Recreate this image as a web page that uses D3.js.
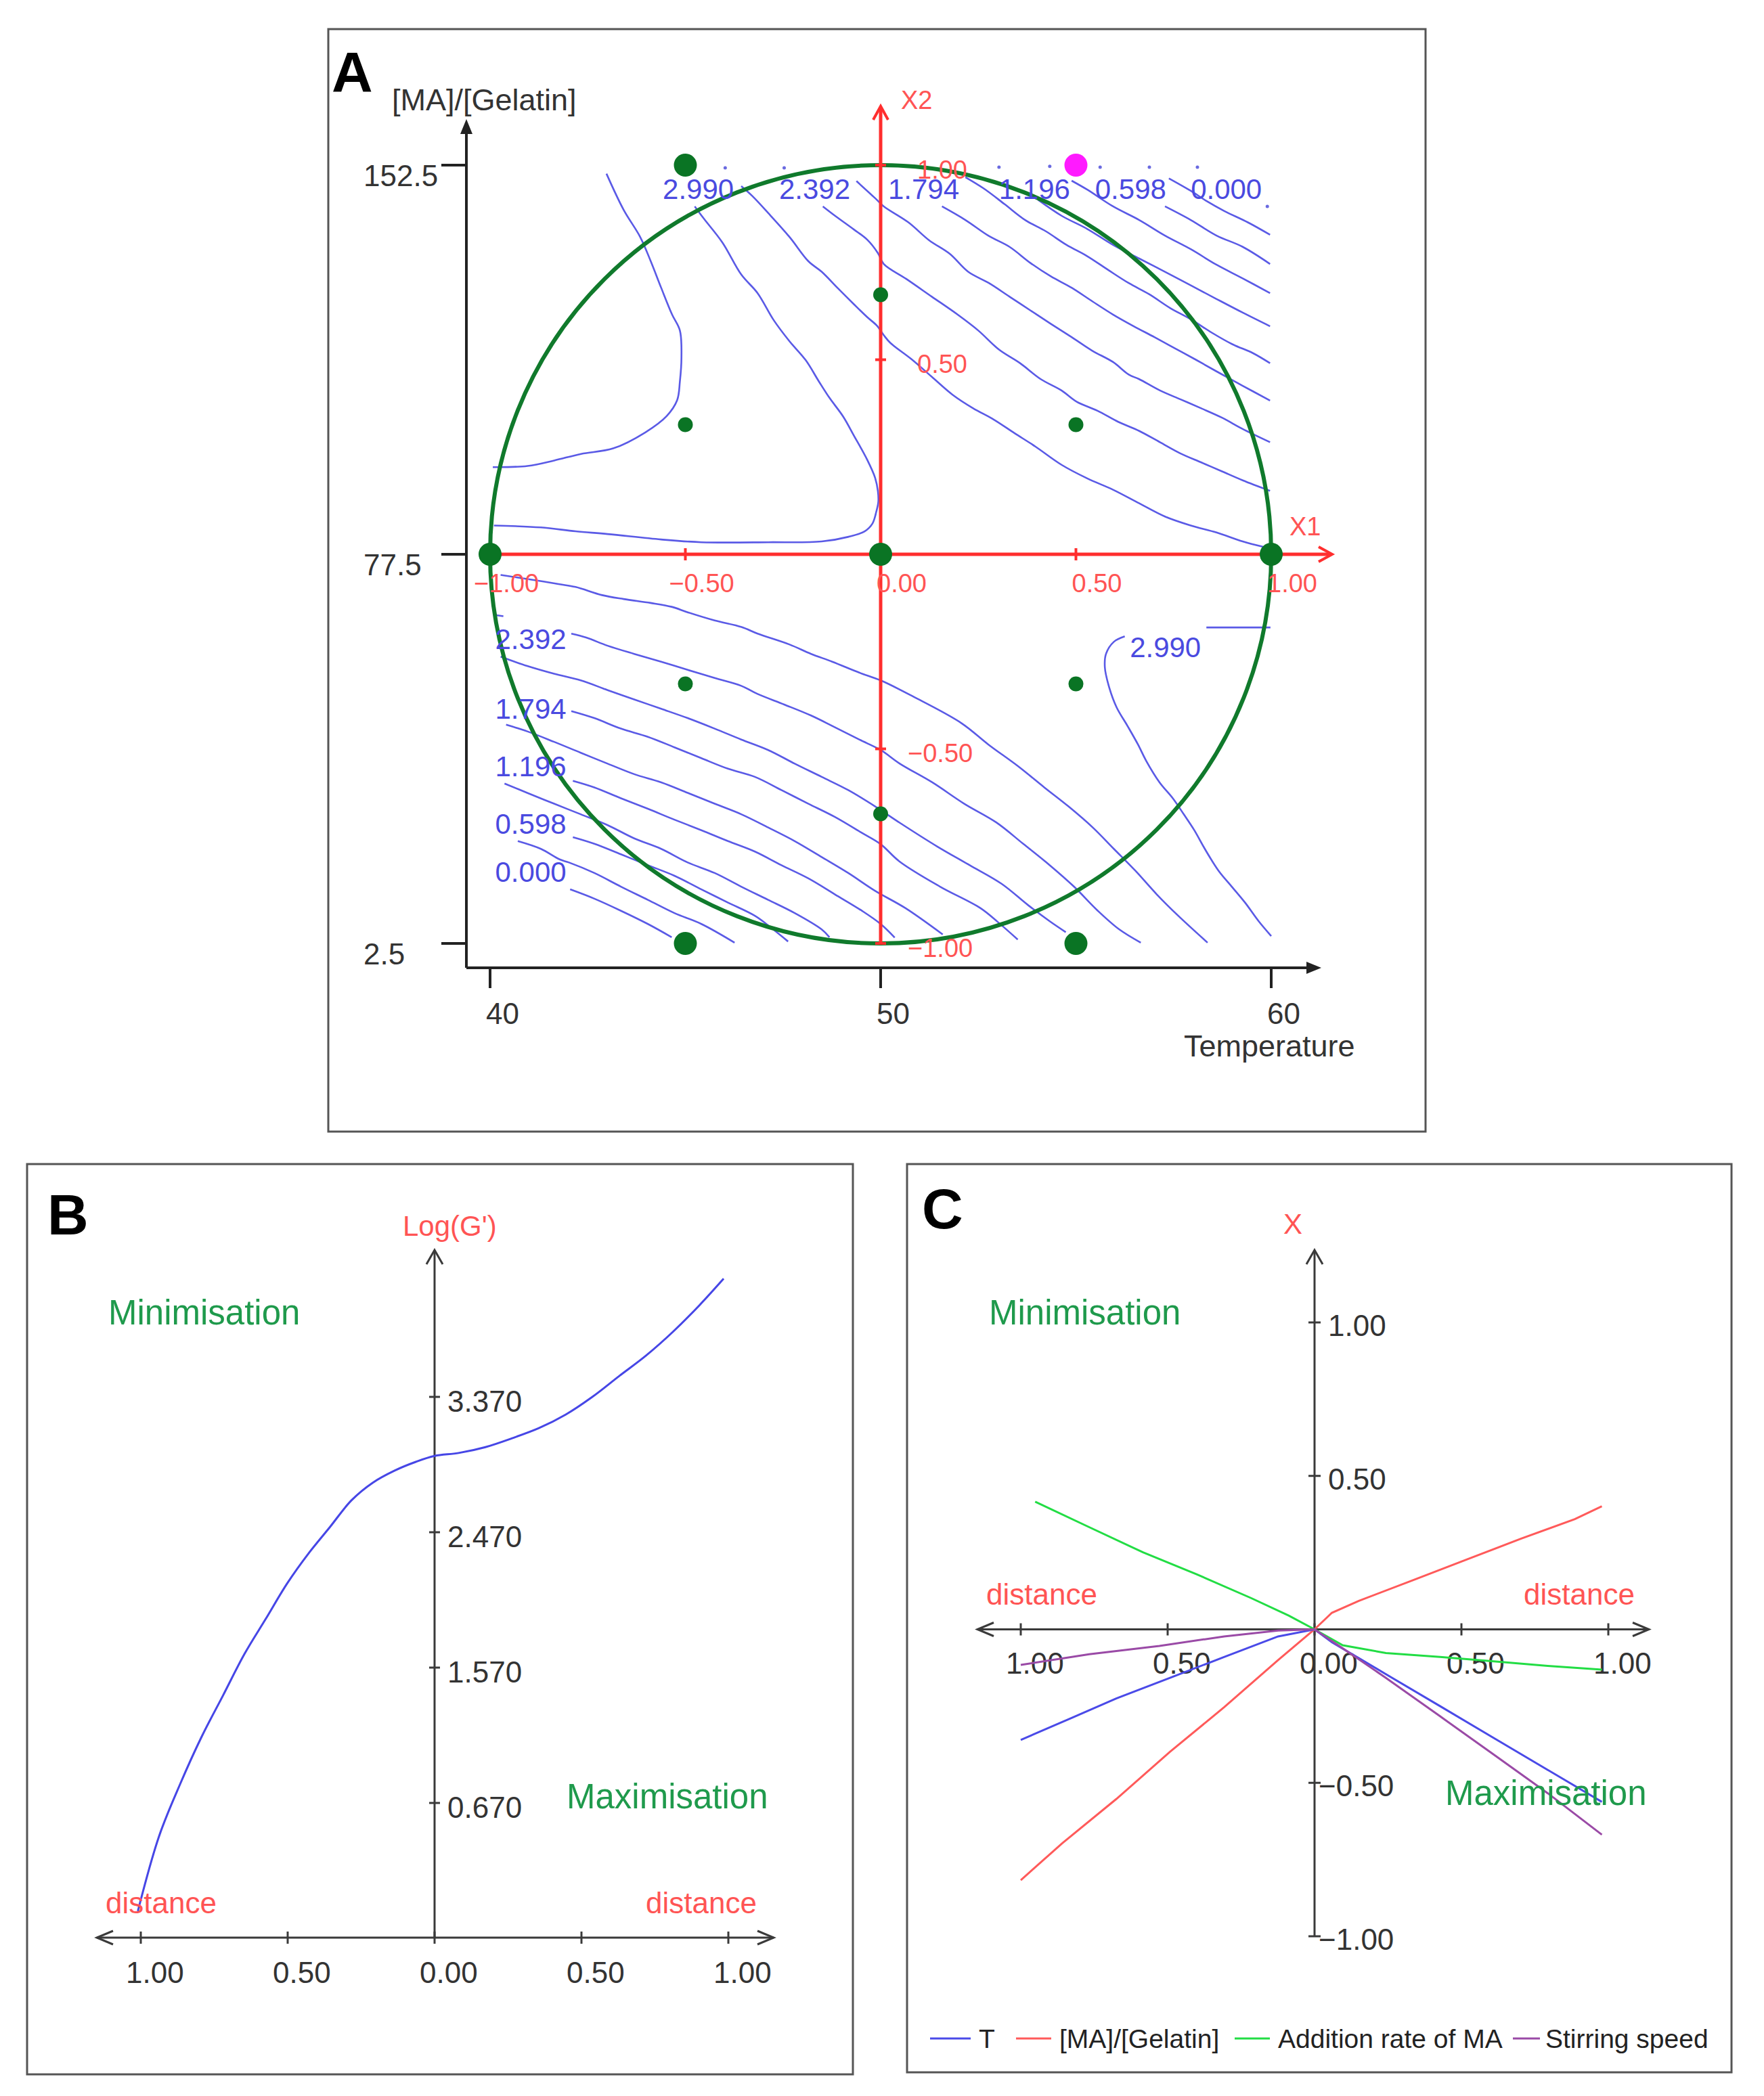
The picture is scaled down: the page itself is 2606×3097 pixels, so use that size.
<!DOCTYPE html>
<html>
<head>
<meta charset="utf-8">
<script src="https://cdn.jsdelivr.net/npm/d3@7"></script>
<style>
  body { margin: 0; background: #fff; }
  svg { display: block; font-family: 'Liberation Sans', Arial, sans-serif; }
</style>
</head>
<body>
<div id="chart"></div>
<script>
// ---------- panel A : response surface (coded units x1 = Temperature, x2 = [MA]/[Gelatin]) ----------
const tempTicks = [40, 50, 60];
const maTicks = [2.5, 77.5, 152.5];
const x1Ticks = [-1, -0.5, 0, 0.5, 1];
const x2Ticks = [-1, -0.5, 0.5, 1];

const designBig = [[-1, 0], [0, 0], [1, 0], [-0.5, 1], [-0.5, -1], [0.5, -1]];
const designSmall = [[0, 0.667], [0, -0.667], [-0.5, 0.333], [0.5, 0.333], [-0.5, -0.333], [0.5, -0.333]];
const designOptimum = [[0.5, 1]];

// iso-response lines, [x1, x2]
const contoursNW = [
  [[-0.702,0.978],[-0.658,0.885],[-0.616,0.816],[-0.589,0.754],[-0.562,0.685],[-0.534,0.616],[-0.514,0.575],[-0.510,0.506],[-0.514,0.444],[-0.521,0.396],[-0.548,0.355],[-0.603,0.313],[-0.685,0.272],[-0.767,0.258],[-0.836,0.241],[-0.904,0.227],[-0.993,0.224]],
  [[-0.476,0.894],[-0.453,0.863],[-0.405,0.801],[-0.357,0.719],[-0.315,0.671],[-0.274,0.602],[-0.233,0.547],[-0.192,0.499],[-0.158,0.444],[-0.131,0.402],[-0.096,0.354],[-0.069,0.306],[-0.035,0.244],[-0.014,0.196],[-0.007,0.162],[-0.006,0.134],[-0.011,0.110],[-0.021,0.079],[-0.041,0.059],[-0.082,0.045],[-0.151,0.033],[-0.288,0.031],[-0.459,0.031],[-0.562,0.038],[-0.699,0.052],[-0.781,0.059],[-0.870,0.069],[-0.990,0.074]]
];
const contoursNE = [
  [[-0.357,0.946],[-0.329,0.921],[-0.288,0.877],[-0.233,0.815],[-0.185,0.753],[-0.151,0.726],[-0.110,0.684],[-0.069,0.643],[-0.034,0.609],[-0.010,0.588],[0.008,0.563],[0.025,0.543],[0.078,0.502],[0.131,0.456],[0.184,0.410],[0.237,0.375],[0.290,0.346],[0.343,0.311],[0.396,0.277],[0.463,0.230],[0.529,0.195],[0.595,0.166],[0.662,0.131],[0.728,0.097],[0.794,0.074],[0.860,0.056],[0.927,0.033],[0.980,0.019]],
  [[-0.148,0.894],[-0.117,0.870],[-0.069,0.835],[-0.034,0.808],[-0.007,0.774],[0.008,0.746],[0.065,0.708],[0.131,0.662],[0.197,0.616],[0.250,0.575],[0.303,0.526],[0.357,0.491],[0.410,0.450],[0.463,0.421],[0.502,0.392],[0.555,0.369],[0.609,0.340],[0.662,0.317],[0.715,0.288],[0.768,0.259],[0.821,0.236],[0.874,0.213],[0.927,0.190],[0.997,0.163]],
  [[-0.062,0.959],[-0.014,0.915],[0.008,0.894],[0.071,0.853],[0.124,0.807],[0.177,0.772],[0.224,0.726],[0.277,0.697],[0.330,0.662],[0.383,0.627],[0.436,0.592],[0.489,0.558],[0.542,0.523],[0.595,0.494],[0.635,0.462],[0.662,0.450],[0.715,0.421],[0.768,0.398],[0.821,0.375],[0.874,0.351],[0.927,0.322],[0.997,0.288]],
  [[0.157,0.894],[0.217,0.859],[0.277,0.818],[0.330,0.790],[0.383,0.749],[0.436,0.714],[0.489,0.685],[0.542,0.650],[0.595,0.616],[0.648,0.586],[0.701,0.558],[0.754,0.529],[0.807,0.500],[0.860,0.470],[0.927,0.433],[0.997,0.395]],
  [[0.217,0.969],[0.264,0.940],[0.317,0.900],[0.370,0.859],[0.423,0.830],[0.476,0.795],[0.529,0.766],[0.582,0.731],[0.635,0.697],[0.688,0.668],[0.741,0.633],[0.794,0.604],[0.847,0.570],[0.900,0.540],[0.953,0.517],[0.997,0.491]],
  [[0.403,0.911],[0.463,0.870],[0.529,0.836],[0.595,0.795],[0.662,0.760],[0.728,0.726],[0.794,0.691],[0.860,0.656],[0.927,0.621],[0.997,0.586]],
  [[0.489,0.960],[0.529,0.937],[0.595,0.894],[0.662,0.859],[0.728,0.819],[0.794,0.784],[0.860,0.744],[0.927,0.709],[0.997,0.671]],
  [[0.728,0.894],[0.794,0.859],[0.860,0.819],[0.927,0.790],[0.997,0.746]],
  [[0.738,0.966],[0.794,0.934],[0.834,0.908],[0.880,0.882],[0.940,0.853],[0.997,0.821]]
];
const contoursSW = [
  [[-0.973,-0.053],[-0.863,-0.070],[-0.822,-0.077],[-0.781,-0.084],[-0.713,-0.105],[-0.658,-0.115],[-0.589,-0.125],[-0.535,-0.135],[-0.494,-0.149],[-0.425,-0.170],[-0.356,-0.187],[-0.315,-0.204],[-0.233,-0.232],[-0.178,-0.256],[-0.124,-0.276],[-0.055,-0.304],[0.000,-0.324],[0.084,-0.366],[0.207,-0.434],[0.276,-0.489],[0.351,-0.544],[0.419,-0.599],[0.481,-0.648],[0.543,-0.702],[0.597,-0.757],[0.652,-0.813],[0.707,-0.874],[0.762,-0.929],[0.837,-0.998]],
  [[-0.792,-0.204],[-0.754,-0.214],[-0.699,-0.235],[-0.631,-0.256],[-0.562,-0.276],[-0.494,-0.297],[-0.425,-0.318],[-0.357,-0.338],[-0.315,-0.359],[-0.247,-0.386],[-0.179,-0.414],[-0.124,-0.441],[-0.055,-0.476],[0.000,-0.503],[0.049,-0.538],[0.132,-0.586],[0.214,-0.641],[0.296,-0.689],[0.365,-0.744],[0.433,-0.799],[0.495,-0.854],[0.556,-0.916],[0.611,-0.964],[0.666,-0.998]],
  [[-0.973,-0.263],[-0.905,-0.287],[-0.836,-0.307],[-0.768,-0.324],[-0.699,-0.349],[-0.631,-0.373],[-0.562,-0.397],[-0.494,-0.421],[-0.425,-0.448],[-0.357,-0.476],[-0.288,-0.503],[-0.220,-0.538],[-0.151,-0.572],[-0.083,-0.606],[-0.014,-0.648],[0.049,-0.690],[0.145,-0.751],[0.228,-0.799],[0.310,-0.847],[0.378,-0.902],[0.433,-0.943],[0.474,-0.971]],
  [[-0.792,-0.403],[-0.733,-0.421],[-0.665,-0.448],[-0.596,-0.469],[-0.528,-0.496],[-0.459,-0.524],[-0.391,-0.551],[-0.322,-0.572],[-0.254,-0.606],[-0.185,-0.641],[-0.117,-0.675],[-0.048,-0.716],[0.000,-0.745],[0.049,-0.790],[0.152,-0.854],[0.255,-0.909],[0.300,-0.945],[0.351,-0.990]],
  [[-0.959,-0.438],[-0.905,-0.455],[-0.836,-0.482],[-0.768,-0.510],[-0.699,-0.538],[-0.631,-0.565],[-0.562,-0.586],[-0.494,-0.613],[-0.425,-0.641],[-0.357,-0.668],[-0.288,-0.702],[-0.220,-0.737],[-0.151,-0.778],[-0.083,-0.819],[-0.014,-0.865],[0.063,-0.909],[0.159,-0.977]],
  [[-0.788,-0.582],[-0.733,-0.599],[-0.665,-0.627],[-0.596,-0.654],[-0.528,-0.682],[-0.459,-0.709],[-0.391,-0.737],[-0.322,-0.764],[-0.254,-0.799],[-0.185,-0.833],[-0.117,-0.874],[-0.048,-0.916],[0.000,-0.950],[0.036,-0.985]],
  [[-0.963,-0.589],[-0.905,-0.613],[-0.836,-0.641],[-0.768,-0.668],[-0.699,-0.696],[-0.631,-0.730],[-0.562,-0.757],[-0.494,-0.792],[-0.425,-0.819],[-0.357,-0.854],[-0.288,-0.888],[-0.220,-0.922],[-0.151,-0.964],[-0.131,-0.984]],
  [[-0.788,-0.727],[-0.733,-0.744],[-0.665,-0.771],[-0.596,-0.799],[-0.528,-0.826],[-0.459,-0.861],[-0.391,-0.895],[-0.322,-0.929],[-0.280,-0.960],[-0.237,-0.995]],
  [[-0.929,-0.737],[-0.870,-0.757],[-0.822,-0.784],[-0.798,-0.792],[-0.733,-0.819],[-0.665,-0.854],[-0.596,-0.888],[-0.528,-0.922],[-0.459,-0.950],[-0.374,-0.998]],
  [[-0.795,-0.861],[-0.733,-0.885],[-0.665,-0.916],[-0.596,-0.950],[-0.535,-0.984]],
  [[-0.987,-0.156],[-0.966,-0.159]]
];
const contoursSE = [
  [[0.834,-0.188],[0.998,-0.188]],
  [[0.625,-0.211],[0.597,-0.225],[0.577,-0.256],[0.574,-0.290],[0.584,-0.338],[0.604,-0.393],[0.632,-0.441],[0.659,-0.489],[0.680,-0.531],[0.714,-0.586],[0.748,-0.627],[0.776,-0.668],[0.803,-0.709],[0.830,-0.757],[0.865,-0.813],[0.899,-0.854],[0.933,-0.895],[0.968,-0.943],[1.000,-0.981]]
];
const contourTopDots = [[-0.398,0.993],[-0.247,0.993],[0.303,0.995],[0.433,0.997],[0.562,0.995],[0.688,0.995],[0.811,0.995],[0.990,0.894]];

const contourLabels = [
  ['2.990', -0.558, 0.939], ['2.392', -0.260, 0.939], ['1.794', 0.019, 0.939],
  ['1.196', 0.303, 0.939], ['0.598', 0.549, 0.939], ['0.000', 0.794, 0.939],
  ['2.392', -0.987, -0.217], ['1.794', -0.987, -0.397], ['1.196', -0.987, -0.544],
  ['0.598', -0.987, -0.692], ['0.000', -0.987, -0.816], ['2.990', 0.638, -0.238]
];

// ---------- panel B : Log(G') along the optimisation path ----------
const distTicks = [-1, -0.5, 0, 0.5, 1];
const logGTicks = [0.670, 1.570, 2.470, 3.370];
const pathDist = [-1.01,-0.939,-0.866,-0.793,-0.720,-0.647,-0.574,-0.501,-0.429,-0.356,-0.283,-0.210,-0.137,-0.064,0.000,0.082,0.173,0.264,0.355,0.446,0.537,0.628,0.720,0.811,0.902,0.984];
const pathLogG = [-0.049,0.442,0.796,1.110,1.385,1.661,1.896,2.132,2.329,2.505,2.682,2.800,2.879,2.938,2.977,2.997,3.036,3.095,3.162,3.252,3.370,3.508,3.645,3.802,3.980,4.156];

// ---------- panel C : factor settings along the path ----------
const factorTicks = [-1, -0.5, 0.5, 1];
const factorNames = ['T', '[MA]/[Gelatin]', 'Addition rate of MA', 'Stirring speed'];
const factorT = [[-1.0,-0.360],[-0.859,-0.302],[-0.675,-0.225],[-0.492,-0.158],[-0.308,-0.090],[-0.124,-0.023],[0,0],[0.059,-0.042],[0.151,-0.094],[0.243,-0.146],[0.427,-0.250],[0.610,-0.354],[0.794,-0.458],[0.978,-0.562]];
const factorMA = [[-1.0,-0.817],[-0.859,-0.697],[-0.675,-0.553],[-0.492,-0.399],[-0.308,-0.254],[-0.124,-0.100],[0,0],[0.059,0.054],[0.151,0.093],[0.335,0.160],[0.519,0.228],[0.702,0.295],[0.886,0.359],[0.978,0.401]];
const factorRate = [[-0.951,0.416],[-0.767,0.333],[-0.584,0.251],[-0.400,0.179],[-0.216,0.102],[-0.088,0.045],[0,0],[0.096,-0.052],[0.243,-0.077],[0.427,-0.090],[0.610,-0.104],[0.794,-0.119],[0.978,-0.131]];
const factorStir = [[-1.0,-0.116],[-0.767,-0.081],[-0.528,-0.054],[-0.308,-0.023],[-0.124,-0.004],[0,0],[0.096,-0.062],[0.243,-0.158],[0.427,-0.283],[0.610,-0.408],[0.794,-0.534],[0.978,-0.669]];

// ---------- drawing ----------
const red = '#ff5454', green = '#1f9a4c', blue = '#5a5ae6', axisGrey = '#3a3a3a';

const svg = d3.select('#chart').append('svg')
  .attr('width', 2606)
  .attr('height', 3097);

svg.append('rect').attr('width', 2606).attr('height', 3097).attr('fill', '#fff');

function label(sel, x, y, txt, size, fill) {
  return sel.append('text')
    .attr('x', x).attr('y', y).attr('dy', '0.36em')
    .attr('font-size', size).attr('fill', fill)
    .text(txt);
}

function chevron(sel, pts, color, width) {
  sel.append('path')
    .attr('d', d3.line()(pts))
    .attr('fill', 'none').attr('stroke', color).attr('stroke-width', width);
}

// panel frames
[[485, 43, 1621, 1629], [40, 1720, 1220, 1345], [1340, 1720, 1218, 1342]].forEach(f => {
  svg.append('rect')
    .attr('x', f[0]).attr('y', f[1]).attr('width', f[2]).attr('height', f[3])
    .attr('fill', 'none').attr('stroke', '#555').attr('stroke-width', 3);
});

// panel letters
[['A', 490, 136], ['B', 70, 1824], ['C', 1362, 1815]].forEach(l => {
  svg.append('text').attr('x', l[1]).attr('y', l[2])
    .attr('font-size', 84).attr('font-weight', 'bold').attr('fill', '#000').text(l[0]);
});

// ===== panel A =====
const gA = svg.append('g').attr('class', 'panelA');
const x1 = d3.scaleLinear().domain([-1, 1]).range([724, 1878]);
const x2 = d3.scaleLinear().domain([-1, 1]).range([1394, 244]);
const tempScale = d3.scaleLinear().domain([40, 60]).range([724, 1878]);
const maScale = d3.scaleLinear().domain([2.5, 152.5]).range([1394, 244]);

const yAxisX = 689, xAxisY = 1430;

// contour lines
const contourLine = d3.line()
  .x(d => x1(d[0]))
  .y(d => x2(d[1]))
  .curve(d3.curveCatmullRom.alpha(0.5));

gA.append('g').attr('class', 'contours')
  .selectAll('path')
  .data([...contoursNW, ...contoursNE, ...contoursSW, ...contoursSE])
  .enter().append('path')
  .attr('d', contourLine)
  .attr('fill', 'none')
  .attr('stroke', blue)
  .attr('stroke-width', 2.6);

gA.selectAll('circle.topdot')
  .data(contourTopDots)
  .enter().append('circle')
  .attr('class', 'topdot')
  .attr('cx', d => x1(d[0])).attr('cy', d => x2(d[1]))
  .attr('r', 2.5).attr('fill', '#6a6ae0');

// experimental domain
gA.append('ellipse')
  .attr('cx', x1(0)).attr('cy', x2(0))
  .attr('rx', x1(1) - x1(0)).attr('ry', x2(-1) - x2(0))
  .attr('fill', 'none').attr('stroke', '#107a2c').attr('stroke-width', 6);

// black natural axes
gA.append('line').attr('x1', yAxisX).attr('y1', xAxisY).attr('x2', yAxisX).attr('y2', 192)
  .attr('stroke', '#222').attr('stroke-width', 4);
gA.append('path').attr('d', `M${yAxisX},176 L${yAxisX - 9},198 L${yAxisX + 9},198 Z`).attr('fill', '#222');
gA.append('line').attr('x1', yAxisX).attr('y1', xAxisY).attr('x2', 1935).attr('y2', xAxisY)
  .attr('stroke', '#222').attr('stroke-width', 4);
gA.append('path').attr('d', `M1952,${xAxisY} L1930,${xAxisY - 9} L1930,${xAxisY + 9} Z`).attr('fill', '#222');

maTicks.forEach(v => {
  gA.append('line').attr('x1', yAxisX - 37).attr('x2', yAxisX)
    .attr('y1', maScale(v)).attr('y2', maScale(v))
    .attr('stroke', '#222').attr('stroke-width', 4);
  label(gA, 537, maScale(v) + 15, String(v), 44, '#333');
});
tempTicks.forEach(v => {
  gA.append('line').attr('x1', tempScale(v)).attr('x2', tempScale(v))
    .attr('y1', xAxisY).attr('y2', xAxisY + 30)
    .attr('stroke', '#222').attr('stroke-width', 4);
  label(gA, tempScale(v) - 6, 1497, String(v), 44, '#333');
});
label(gA, 579, 147, '[MA]/[Gelatin]', 45, '#333');
label(gA, 1749, 1545, 'Temperature', 45, '#333');

// red coded axes
const redAxis = '#ff2e2e';
gA.append('line').attr('x1', x1(-1)).attr('x2', 1966).attr('y1', x2(0)).attr('y2', x2(0))
  .attr('stroke', redAxis).attr('stroke-width', 5);
chevron(gA, [[1948, x2(0) - 11], [1968, x2(0)], [1948, x2(0) + 11]], redAxis, 4);
gA.append('line').attr('x1', x1(0)).attr('x2', x1(0)).attr('y1', x2(-1)).attr('y2', 159)
  .attr('stroke', redAxis).attr('stroke-width', 5);
chevron(gA, [[x1(0) - 11, 177], [x1(0), 157], [x1(0) + 11, 177]], redAxis, 4);

[-0.5, 0.5].forEach(v => {
  gA.append('line').attr('x1', x1(v)).attr('x2', x1(v)).attr('y1', x2(0) - 9).attr('y2', x2(0) + 9)
    .attr('stroke', redAxis).attr('stroke-width', 4);
});
x2Ticks.forEach(v => {
  gA.append('line').attr('x1', x1(0) - 8).attr('x2', x1(0) + 8).attr('y1', x2(v)).attr('y2', x2(v))
    .attr('stroke', redAxis).attr('stroke-width', 4);
});

// design points
gA.selectAll('circle.big').data(designBig).enter().append('circle')
  .attr('cx', d => x1(d[0])).attr('cy', d => x2(d[1])).attr('r', 17).attr('fill', '#0a7424');
gA.selectAll('circle.small').data(designSmall).enter().append('circle')
  .attr('cx', d => x1(d[0])).attr('cy', d => x2(d[1])).attr('r', 11).attr('fill', '#0a7424');
gA.selectAll('circle.opt').data(designOptimum).enter().append('circle')
  .attr('cx', d => x1(d[0])).attr('cy', d => x2(d[1])).attr('r', 17).attr('fill', '#ff1aff');

// red coded tick labels
const f2 = d3.format('.2f');
x1Ticks.forEach(v => {
  label(gA, x1(v) - 6 - (v < 0 ? 18 : 0), 861, f2(v), 38, red);
});
x2Ticks.forEach(v => {
  label(gA, x1(0) + (v < 0 ? 40 : 54), x2(v) + 6, f2(v), 38, red);
});
label(gA, 1905, 777, 'X1', 38, red);
label(gA, 1331, 147, 'X2', 38, red);

// contour level labels
contourLabels.forEach(l => {
  label(gA, x1(l[1]), x2(l[2]), l[0], 42, '#4a4ae0');
});

// ===== panel B =====
const gB = svg.append('g').attr('class', 'panelB');
const xB = d3.scaleLinear().domain([-1, 1]).range([208, 1076]);
const yB = d3.scaleLinear().domain([0.670, 3.370]).range([2664, 2064]);
const baseB = 2863;

gB.append('line').attr('x1', 143).attr('x2', 1143).attr('y1', baseB).attr('y2', baseB)
  .attr('stroke', axisGrey).attr('stroke-width', 3);
gB.append('line').attr('x1', xB(0)).attr('x2', xB(0)).attr('y1', baseB).attr('y2', 1847)
  .attr('stroke', axisGrey).attr('stroke-width', 3);
chevron(gB, [[167, baseB - 10], [143, baseB], [167, baseB + 10]], axisGrey, 3);
chevron(gB, [[1119, baseB - 10], [1143, baseB], [1119, baseB + 10]], axisGrey, 3);
chevron(gB, [[xB(0) - 12, 1868], [xB(0), 1847], [xB(0) + 12, 1868]], axisGrey, 3);

distTicks.forEach(v => {
  gB.append('line').attr('x1', xB(v)).attr('x2', xB(v)).attr('y1', baseB - 9).attr('y2', baseB + 9)
    .attr('stroke', axisGrey).attr('stroke-width', 3);
  label(gB, xB(v) - 22, 2914, f2(Math.abs(v)), 44, '#333');
});
logGTicks.forEach(v => {
  gB.append('line').attr('x1', xB(0) - 8).attr('x2', xB(0) + 8).attr('y1', yB(v)).attr('y2', yB(v))
    .attr('stroke', axisGrey).attr('stroke-width', 3);
  label(gB, xB(0) + 19, yB(v) + 6, d3.format('.3f')(v), 44, '#333');
});

gB.append('path')
  .datum(d3.zip(pathDist, pathLogG))
  .attr('d', d3.line().x(d => xB(d[0])).y(d => yB(d[1])).curve(d3.curveCatmullRom.alpha(0.5)))
  .attr('fill', 'none').attr('stroke', '#4646e6').attr('stroke-width', 3);

label(gB, 595, 1811, "Log(G')", 42, red);
label(gB, 160, 1939, 'Minimisation', 51, green);
label(gB, 837, 2654, 'Maximisation', 51, green);
label(gB, 156, 2811, 'distance', 44, red);
label(gB, 954, 2811, 'distance', 44, red);

// ===== panel C =====
const gC = svg.append('g').attr('class', 'panelC');
const xC = d3.scaleLinear().domain([-1, 1]).range([1508, 2376]);
const yC = d3.scaleLinear().domain([-1, 1]).range([2861, 1954]);

gC.append('line').attr('x1', 1444).attr('x2', 2436).attr('y1', yC(0)).attr('y2', yC(0))
  .attr('stroke', axisGrey).attr('stroke-width', 3);
gC.append('line').attr('x1', xC(0)).attr('x2', xC(0)).attr('y1', yC(-1)).attr('y2', 1847)
  .attr('stroke', axisGrey).attr('stroke-width', 3);
chevron(gC, [[1468, yC(0) - 10], [1444, yC(0)], [1468, yC(0) + 10]], axisGrey, 3);
chevron(gC, [[2412, yC(0) - 10], [2436, yC(0)], [2412, yC(0) + 10]], axisGrey, 3);
chevron(gC, [[xC(0) - 12, 1868], [xC(0), 1847], [xC(0) + 12, 1868]], axisGrey, 3);

distTicks.forEach(v => {
  gC.append('line').attr('x1', xC(v)).attr('x2', xC(v)).attr('y1', yC(0) - 9).attr('y2', yC(0) + 9)
    .attr('stroke', axisGrey).attr('stroke-width', 3);
  label(gC, xC(v) - 22, 2457, f2(Math.abs(v)), 44, '#333');
});
factorTicks.forEach(v => {
  gC.append('line').attr('x1', xC(0) - 9).attr('x2', xC(0) + 9).attr('y1', yC(v)).attr('y2', yC(v))
    .attr('stroke', axisGrey).attr('stroke-width', 3);
  label(gC, xC(0) + (v < 0 ? 6 : 20), yC(v) + 4, f2(v), 44, '#333');
});

const factorColors = ['#4a4ae8', '#ff5a5a', '#22dd44', '#9a4aa6'];
const factorLine = d3.line().x(d => xC(d[0])).y(d => yC(d[1]));
[factorMA, factorRate, factorT, factorStir].forEach((s, i) => {
  const ci = [1, 2, 0, 3][i];
  gC.append('path').datum(s).attr('d', factorLine)
    .attr('fill', 'none').attr('stroke', factorColors[ci]).attr('stroke-width', 3);
});

label(gC, 1896, 1808, 'X', 42, red);
label(gC, 1461, 1939, 'Minimisation', 51, green);
label(gC, 2135, 2649, 'Maximisation', 51, green);
label(gC, 1457, 2355, 'distance', 44, red);
label(gC, 2251, 2355, 'distance', 44, red);

// legend
const legendPos = [[1374, 60, 1446], [1501, 52, 1565], [1824, 52, 1888], [2235, 40, 2283]];
factorNames.forEach((name, i) => {
  const p = legendPos[i];
  gC.append('line').attr('x1', p[0]).attr('x2', p[0] + p[1]).attr('y1', 3012).attr('y2', 3012)
    .attr('stroke', factorColors[i]).attr('stroke-width', 3);
  label(gC, p[2], 3012, name, 39, '#222');
});
</script>
</body>
</html>
